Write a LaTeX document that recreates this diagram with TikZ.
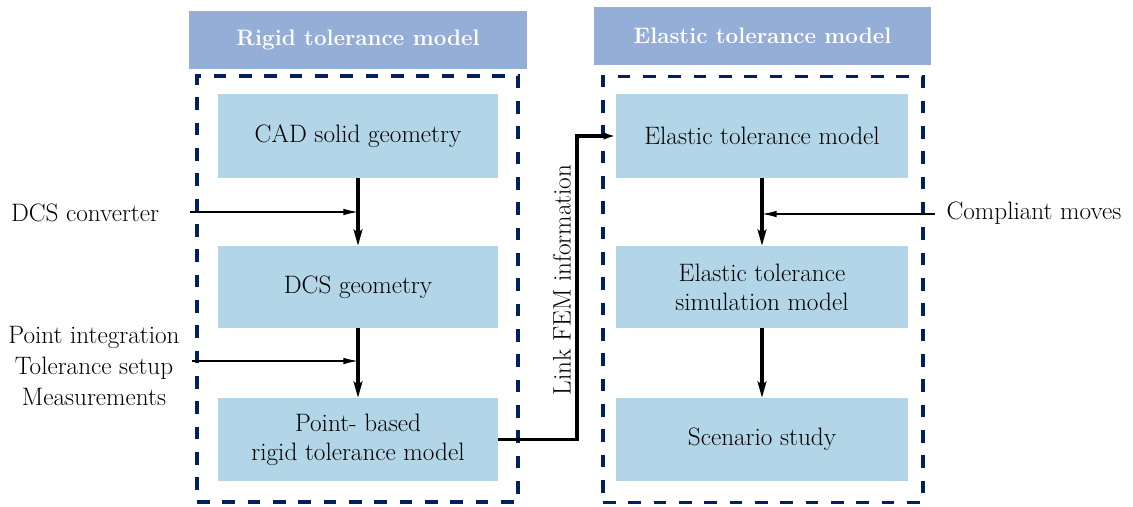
\documentclass[tikz,border=0pt]{standalone}
\usetikzlibrary{arrows.meta}
\definecolor{hdr}{RGB}{149,174,216}
\definecolor{boxc}{RGB}{178,214,232}
\definecolor{navy}{RGB}{0,32,96}
\begin{document}
\begin{tikzpicture}[x=0.75pt,y=-0.75pt,
  font=\fontsize{18.9}{21.75}\selectfont,
  hdrbox/.style={fill=hdr, text=white, inner sep=0pt, font=\fontsize{16.8}{20}\selectfont\bfseries},
  procbox/.style={fill=boxc, align=center, inner sep=0pt},
  groupbox/.style={draw=navy, line width=2.3pt, dash pattern=on 9.5pt off 9.5pt, inner sep=0pt},
  mainarrow/.style={line width=2.4pt, -{Stealth[length=12pt,width=6.5pt,inset=2pt]}},
  thinarrow/.style={line width=0.9pt, -{Latex[length=11pt,width=5pt]}},
  linkarrow/.style={line width=2.4pt, -{Latex[length=9pt,width=5.5pt]}},
  plain/.style={inner sep=0pt, align=center}]
\useasboundingbox (0,0) rectangle (1133,507);
% headers
\node[hdrbox, minimum width=253.5pt, minimum height=43.5pt] (h1) at (358,40) {Rigid tolerance model};
\node[hdrbox, minimum width=252.75pt, minimum height=43.5pt] (h2) at (762.5,36) {Elastic tolerance model};
% dashed groups
\node[groupbox, minimum width=240.75pt, minimum height=319.5pt] (g1) at (357.5,289) {};
\node[groupbox, minimum width=240pt, minimum height=319.5pt] (g2) at (763,289.5) {};
% left boxes
\node[procbox, minimum width=210pt, minimum height=63pt] (b1) at (358,136) {CAD solid geometry};
\node[procbox, minimum width=210pt, minimum height=61.5pt] (b2) at (358,287) {DCS geometry};
\node[procbox, minimum width=210pt, minimum height=62.25pt] (b3) at (358,439.5) {Point- based\\rigid tolerance model};
% right boxes
\node[procbox, minimum width=219pt, minimum height=63pt] (r1) at (762,136) {Elastic tolerance model};
\node[procbox, minimum width=219pt, minimum height=61.5pt] (r2) at (762,287) {Elastic tolerance\\simulation model};
\node[procbox, minimum width=219pt, minimum height=62.25pt] (r3) at (762,439.5) {Scenario study};
% vertical arrows
\draw[mainarrow] (b1) -- (b2);
\draw[mainarrow] (b2) -- (b3);
\draw[mainarrow] (r1) -- (r2);
\draw[mainarrow] (r2) -- (r3);
% inputs
\node[plain] (dcs) at (85,213) {DCS converter};
\coordinate (dcsin) at (190,212);
\draw[thinarrow] (dcsin) -- (dcsin -| b1);
\node[plain, font=\fontsize{18.9}{23.25}\selectfont] (pit) at (94,366) {Point integration\\Tolerance setup\\Measurements};
\coordinate (ptin) at (192,361);
\draw[thinarrow] (ptin) -- (ptin -| b2);
\node[plain] (cm) at (1034,213) {Compliant moves};
\coordinate (cmin) at (935,214);
\draw[thinarrow] (cmin) -- (cmin -| r1);
% link
\coordinate (linkx) at (577,0);
\draw[linkarrow] (b3.east) -- (b3.east -| linkx) |- (r1.west);
\node[plain, rotate=90] (lft) at (562,280) {Link FEM information};
\end{tikzpicture}
\end{document}
